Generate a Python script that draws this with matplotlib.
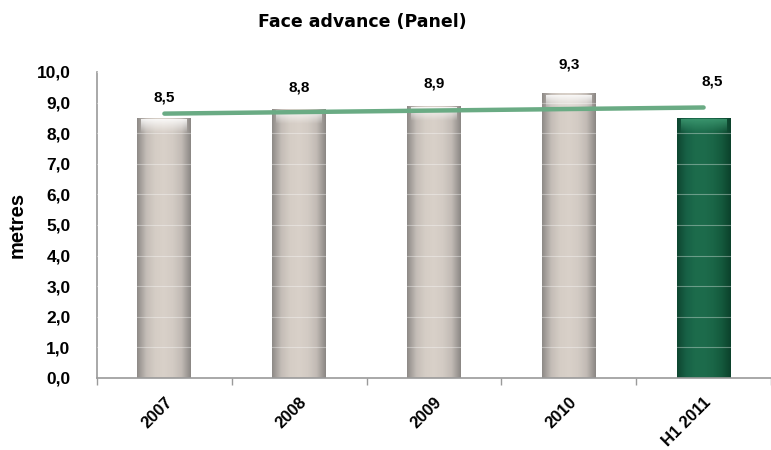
import numpy as np
import matplotlib.pyplot as plt
from matplotlib.colors import LinearSegmentedColormap, to_rgb

# face advance per year, metres
periods = ["2007", "2008", "2009", "2010", "H1 2011"]
advance = [8.5, 8.8, 8.9, 9.3, 8.5]
value_labels = ["8,5", "8,8", "8,9", "9,3", "8,5"]
y_ticks = [0, 1, 2, 3, 4, 5, 6, 7, 8, 9, 10]
y_tick_labels = ["0,0", "1,0", "2,0", "3,0", "4,0", "5,0", "6,0", "7,0", "8,0", "9,0", "10,0"]

# how far above each bar its label sits (labels were nudged by hand)
label_lift = [0.66, 0.70, 0.73, 0.96, 1.19]
label_shift = [0, 0, 0, 0, 0.06]

plt.rcParams['font.family'] = ['Liberation Sans', 'DejaVu Sans']

fig = plt.figure(figsize=(7.71, 4.5), dpi=100)
ax = fig.add_axes([97 / 771, 72 / 450, 674 / 771, 306 / 450])

x = np.arange(len(periods))
bar_w = 0.4
colors = ["#d2cac3"] * 4 + ["#1d6a4b"]
bars = ax.bar(x, advance, width=bar_w, color=colors, edgecolor="none", zorder=2)

# soft horizontal shading so the bars look rounded
beige = LinearSegmentedColormap.from_list(
    "beige", ["#8f8b88", "#c4bdb7", "#d5cdc5", "#d9d1c9", "#d3cbc4", "#c2bbb5", "#8c8885"])
green = LinearSegmentedColormap.from_list(
    "green", ["#0e4630", "#176146", "#1c6b4b", "#1d6c4c", "#1a6647", "#145a3d", "#0c422c"])
grad = np.linspace(0, 1, 64).reshape(1, -1)
for i, b in enumerate(bars):
    cmap = green if i == 4 else beige
    im = ax.imshow(grad, cmap=cmap, aspect="auto", zorder=2.5,
                   extent=[b.get_x(), b.get_x() + bar_w, 0, b.get_height()])
    im.set_clip_path(b)
    # lighter cap fading down from the top of each bar
    cap_rgb = to_rgb("#3e9a72") if i == 4 else to_rgb("#ffffff")
    fade = np.zeros((32, 1, 4))
    fade[..., :3] = cap_rgb
    fade[:, 0, 3] = np.linspace(0.85, 0.0, 32)
    top = b.get_height()
    ax.imshow(fade, aspect="auto", zorder=2.7, interpolation="bilinear",
              extent=[b.get_x() + 0.03, b.get_x() + bar_w - 0.03, top - 0.5, top - 0.05])

# faint white gridlines only visible across the bars
for yv in y_ticks[1:]:
    ax.axhline(yv, color="white", lw=0.8, alpha=0.35, zorder=3.5)

# linear trend across the periods
slope, icpt = np.polyfit(x, advance, 1)
ax.plot(x, slope * x + icpt - 0.06, color="#6aab84", lw=3.2,
        solid_capstyle="round", zorder=4)

for xi, v, lab, dy, dx in zip(x, advance, value_labels, label_lift, label_shift):
    ax.text(xi + dx, v + dy, lab, ha="center", va="center",
            fontsize=11, fontweight="bold", zorder=5)

ax.set_xlim(-0.5, -0.5 + 674 / 136.6)
ax.set_ylim(0, 10)
ax.set_yticks(y_ticks)
ax.set_yticklabels(y_tick_labels, fontsize=12.5, fontweight="bold")
ax.tick_params(axis="y", length=0, pad=19)

ax.set_xticks(x)
ax.set_xticklabels(periods, rotation=45, ha="right", rotation_mode="anchor",
                   fontsize=12, fontweight="bold")
ax.tick_params(axis="x", length=0, pad=12)
ax.set_xticks(np.arange(len(periods) + 1) - 0.5, minor=True)
ax.tick_params(axis="x", which="minor", length=5, color="#9a9a9a", width=1)

for s in ["top", "right"]:
    ax.spines[s].set_visible(False)
ax.spines["left"].set_color("#9a9a9a")
ax.spines["bottom"].set_color("#9a9a9a")
ax.spines["left"].set_linewidth(1.2)
ax.spines["bottom"].set_linewidth(1.2)

ax.set_ylabel("metres", fontsize=14.5, fontweight="bold")
ax.yaxis.set_label_coords(-0.104, 0.5)

fig.text(362 / 771, 1 - 22 / 450, "Face advance (Panel)", ha="center", va="center",
         fontsize=12.5, fontweight="bold", family="DejaVu Sans")

fig.savefig("out.png", dpi=100)
